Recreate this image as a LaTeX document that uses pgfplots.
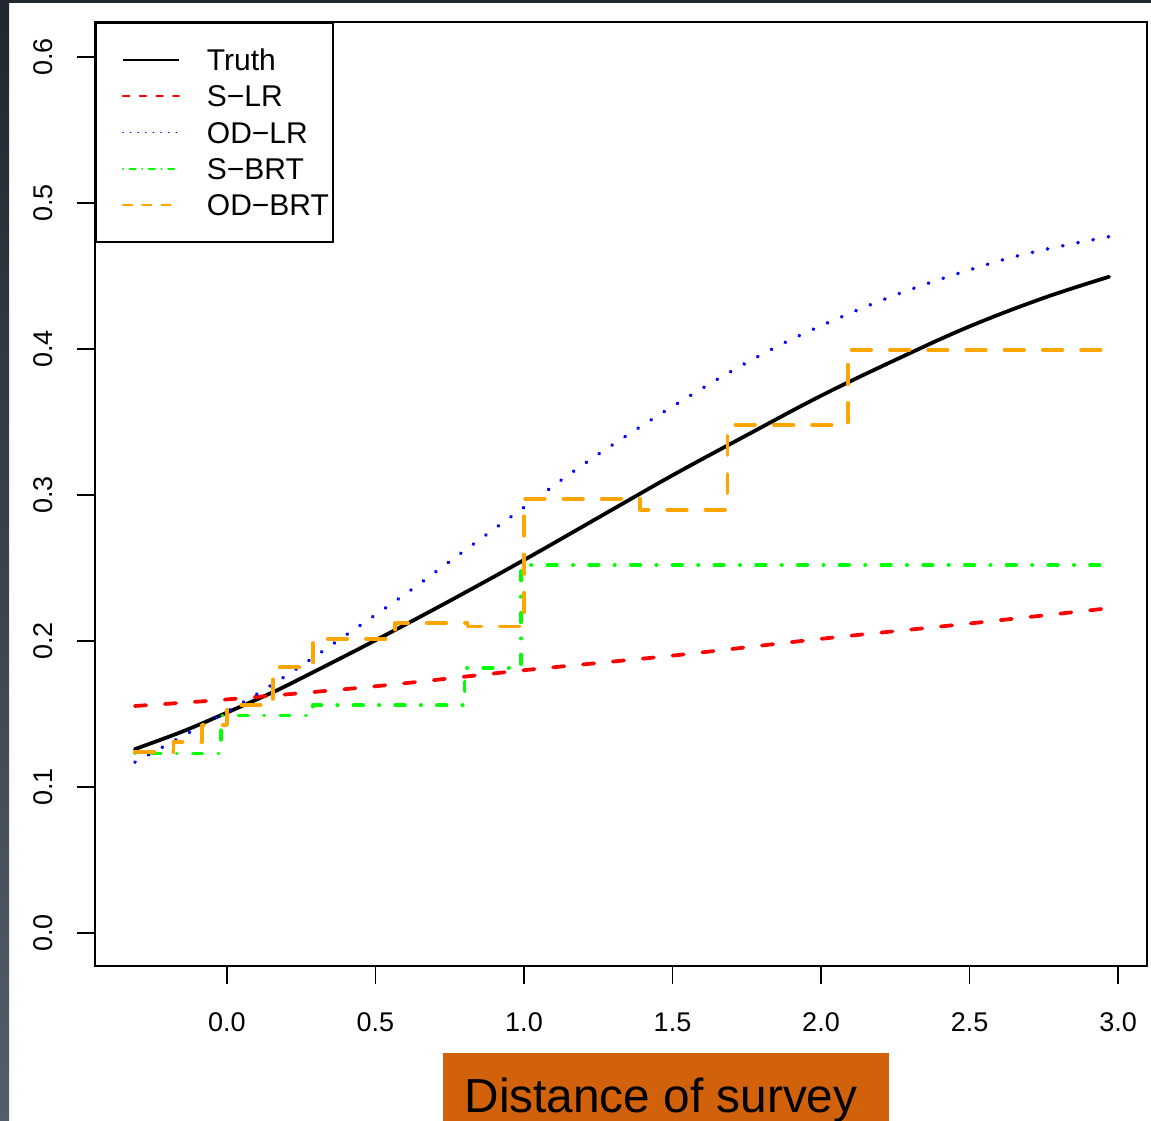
\documentclass[border=0pt]{standalone}
\usepackage{fontspec}
\setmainfont{Liberation Sans}
\usepackage{graphicx}
\usepackage{pgfplots}
\pgfplotsset{compat=1.18}
\definecolor{rred}{RGB}{255,0,0}
\definecolor{rblue}{RGB}{0,0,255}
\definecolor{rgreen}{RGB}{0,255,0}
\definecolor{rorange}{RGB}{255,165,0}
\definecolor{labbox}{RGB}{209,97,11}
\definecolor{stripdark}{RGB}{32,39,47}
\definecolor{stripbot}{RGB}{84,94,106}
\begin{document}
\begin{tikzpicture}
\useasboundingbox (0pt,0pt) rectangle (460.4pt,-448.4pt);
\fill[white] (0pt,0pt) rectangle (460.4pt,-448.4pt);
\fill[stripdark] (0pt,0pt) rectangle (460.4pt,-1.2pt);
\shade[top color=stripdark, bottom color=stripbot] (0pt,0pt) rectangle (3.6pt,-448.4pt);
\begin{axis}[
  at={(38pt,-386.4pt)}, anchor=south west,
  scale only axis, width=420.8pt, height=377.6pt,
  xmin=-0.4444, xmax=3.0976, ymin=-0.0226, ymax=0.624,
  axis line style={black, line width=0.75pt},
  tick align=outside, tick pos=left, major tick length=7.2pt,
  tick style={black, line width=0.75pt},
  xtick={0,0.5,1,1.5,2,2.5,3},
  xticklabels={0.0,0.5,1.0,1.5,2.0,2.5,3.0},
  ytick={0,0.1,0.2,0.3,0.4,0.5,0.6},
  yticklabels={\rotatebox{90}{0.0},\rotatebox{90}{0.1},\rotatebox{90}{0.2},\rotatebox{90}{0.3},\rotatebox{90}{0.4},\rotatebox{90}{0.5},\rotatebox{90}{0.6}},
  xticklabel style={font=\fontsize{10.8}{12}\selectfont, inner sep=0pt, anchor=north, yshift=-11.4pt},
  yticklabel style={font=\fontsize{10.8}{12}\selectfont, inner sep=0pt, anchor=east, xshift=-9.6pt},
  xlabel={Distance of survey\hspace*{4pt}},
  xlabel style={at={(axis description cs:0.5428,-0.1547)}, anchor=base,
    font=\fontsize{19.1}{22}\selectfont, fill=labbox, text=black,
    inner xsep=8.8pt, inner ysep=0pt, text height=23.6pt, text depth=12pt},
  legend image code/.code={\path[draw=none] (-9.3pt,0pt) -- (33.6pt,0pt); \draw[#1] (0pt,0pt) -- (22.4pt,0pt);},
  legend style={at={(0,1)}, anchor=north west, draw=black, line width=0.75pt, fill=white,
    inner xsep=1.5pt, inner ysep=10.5pt, row sep=5.9pt, column sep=0pt,
    nodes={inner sep=0pt, text height=8.6pt, text depth=0pt, font=\fontsize{12}{14}\selectfont},
    cells={anchor=west}},
]
\addlegendimage{black, line width=0.75pt}
\addlegendentry{Truth}
\addlegendimage{rred, line width=0.75pt, line cap=round, dash pattern=on 2.6pt off 4.1pt}
\addlegendentry{S−LR}
\addlegendimage{rblue, line width=0.75pt, line cap=round, dash pattern=on 0.05pt off 3pt}
\addlegendentry{OD−LR}
\addlegendimage{rgreen, line width=0.75pt, line cap=round, dash pattern=on 0.1pt off 2.6pt on 2.4pt off 2.6pt}
\addlegendentry{S−BRT}
\addlegendimage{rorange, line width=0.75pt, line cap=round, dash pattern=on 3.75pt off 3.95pt}
\addlegendentry{OD−BRT}

% Truth
\addplot[forget plot, black, line width=1.5pt, line cap=round, line join=round, smooth, tension=0.6] coordinates {
(-0.31,0.126) (-0.15,0.138) (0.0,0.151) (0.155,0.165) (0.25,0.1745) (0.5,0.2005)
(0.75,0.2275) (1.0,0.2555) (1.25,0.2845) (1.5,0.3135) (1.75,0.341) (2.0,0.368)
(2.25,0.3925) (2.5,0.4155) (2.75,0.435) (2.97,0.4495)};
% S-LR
\addplot[forget plot, rred, line width=1.5pt, line cap=round, smooth, dash pattern=on 4.5pt off 7.5pt] coordinates {
(-0.31,0.1555) (0,0.160) (0.5,0.169) (1,0.180) (1.5,0.190) (2,0.2015) (2.5,0.212) (2.97,0.2225)};
% OD-LR
\addplot[forget plot, rblue, line width=1.5pt, line cap=round, smooth, tension=0.6, dash pattern=on 0.1pt off 6.1pt] coordinates {
(-0.31,0.117) (-0.13,0.137) (0.05,0.1575)
(0.22,0.179) (0.4,0.204) (0.606,0.233) (0.8,0.262) (1.02,0.2945)
(1.2,0.321) (1.44,0.353) (1.7,0.385) (1.936,0.410) (2.25,0.437) (2.56,0.458)
(2.75,0.468) (2.97,0.477)};
% S-BRT
\addplot[forget plot, rgreen, line width=1.5pt, line cap=round, line join=round, const plot,
  dash pattern=on 0.1pt off 6.4pt on 3.8pt off 6.4pt] coordinates {
(-0.31,0.123) (-0.02,0.149) (0.29,0.156) (0.80,0.1815) (0.99,0.252) (2.97,0.252)};
% OD-BRT
\addplot[forget plot, rorange, line width=1.5pt, line cap=round, line join=round, const plot,
  dash pattern=on 7.8pt off 7.5pt] coordinates {
(-0.31,0.124) (-0.18,0.131) (-0.084,0.1425) (0.0,0.156) (0.155,0.182) (0.29,0.2015)
(0.566,0.2123) (0.81,0.210) (1.0,0.2975) (1.39,0.290) (1.685,0.348) (2.09,0.3995) (2.97,0.3995)};
\end{axis}
\end{tikzpicture}
\end{document}
